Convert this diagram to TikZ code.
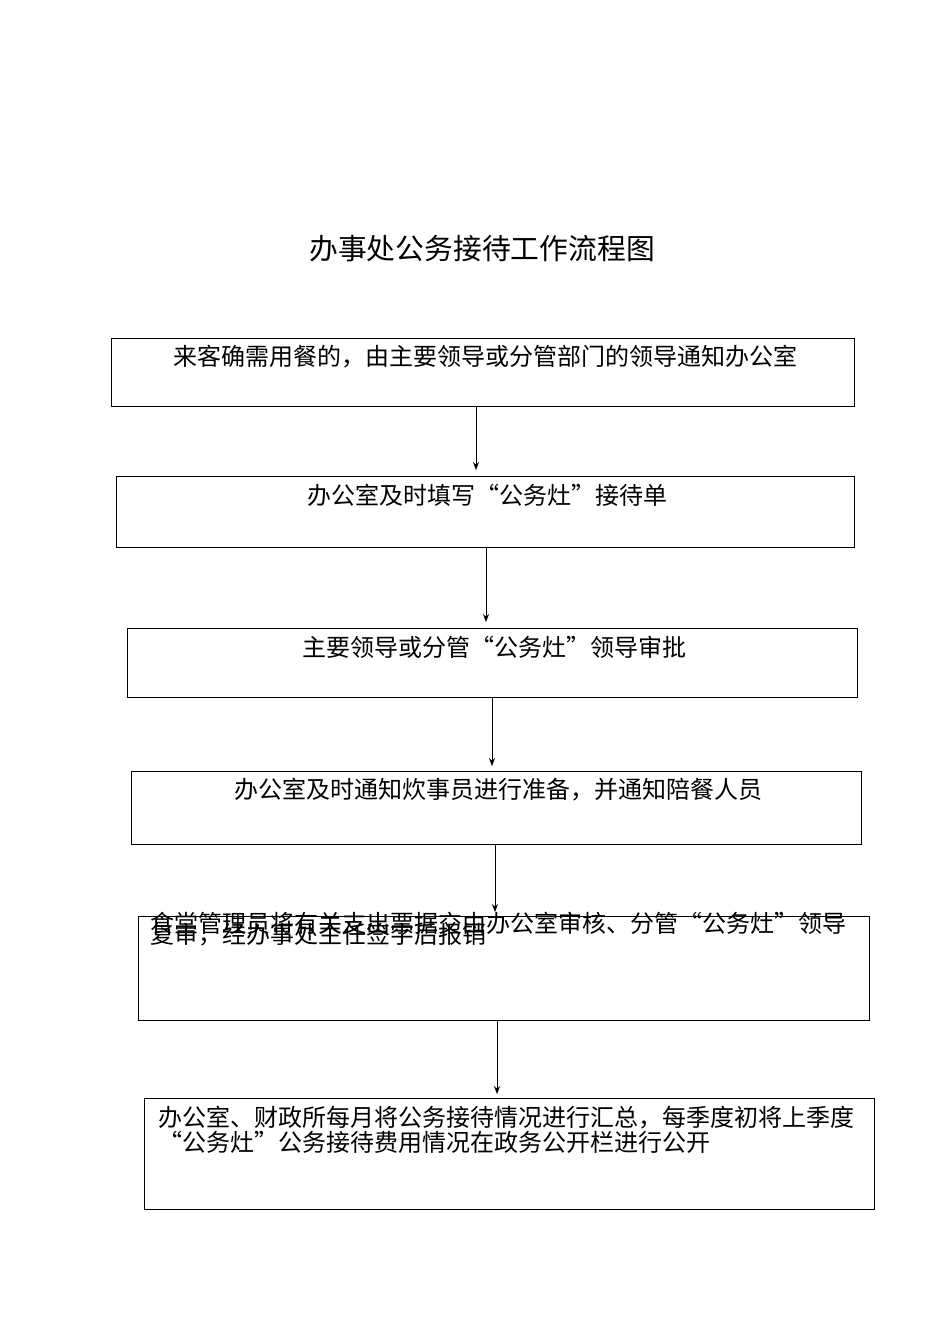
\documentclass[tikz,border=0pt]{standalone}
\usepackage{fontspec}
\newfontfamily\cjk{Noto Sans CJK SC}
\usetikzlibrary{arrows.meta}
\begin{document}
\begin{tikzpicture}[x=1pt,y=-1pt,
  box/.style={draw,line width=1pt},
  txt/.style={anchor=west,inner sep=0pt,font=\cjk\fontsize{24}{28}\selectfont},
  arr/.style={-{Stealth[length=8pt,width=6pt]},line width=0.8pt}]
\useasboundingbox[fill=white] (0,0) rectangle (950,1344);
\node[anchor=center,inner sep=0pt,font=\cjk\fontsize{28.8}{32}\selectfont] (title) at (482,249) {办事处公务接待工作流程图};
\draw[box] (111,338) rectangle (854,406);
\node[txt] (t1) at (173,357) {来客确需用餐的，由主要领导或分管部门的领导通知办公室};
\draw[box] (116,476) rectangle (854,547);
\node[txt] (t2) at (307,495) {办公室及时填写“公务灶”接待单};
\draw[box] (127,628) rectangle (857,697);
\node[txt] (t3) at (302,647) {主要领导或分管“公务灶”领导审批};
\draw[box] (131,771) rectangle (861,844);
\node[txt] (t4) at (234,790) {办公室及时通知炊事员进行准备，并通知陪餐人员};
\draw[box] (138,916) rectangle (869,1020);
\node[txt] (t5a) at (150,923) {食堂管理员将有关支出票据交由办公室审核、分管“公务灶”领导};
\node[txt] (t5b) at (150,935) {复审，经办事处主任签字后报销};
\draw[box] (144,1098) rectangle (874,1209);
\node[txt] (t6a) at (158,1118) {办公室、财政所每月将公务接待情况进行汇总，每季度初将上季度};
\node[txt] (t6b) at (158,1142) {“公务灶”公务接待费用情况在政务公开栏进行公开};
\coordinate (a1) at (476,406); \coordinate (b1) at (476,470);
\coordinate (a2) at (486,547); \coordinate (b2) at (486,622);
\coordinate (a3) at (492,697); \coordinate (b3) at (492,766);
\coordinate (a4) at (495,844); \coordinate (b4) at (495,912);
\coordinate (a5) at (497,1020); \coordinate (b5) at (497,1094);
\draw[arr] (a1) -- (b1);
\draw[arr] (a2) -- (b2);
\draw[arr] (a3) -- (b3);
\draw[arr] (a4) -- (b4);
\draw[arr] (a5) -- (b5);
\end{tikzpicture}
\end{document}
